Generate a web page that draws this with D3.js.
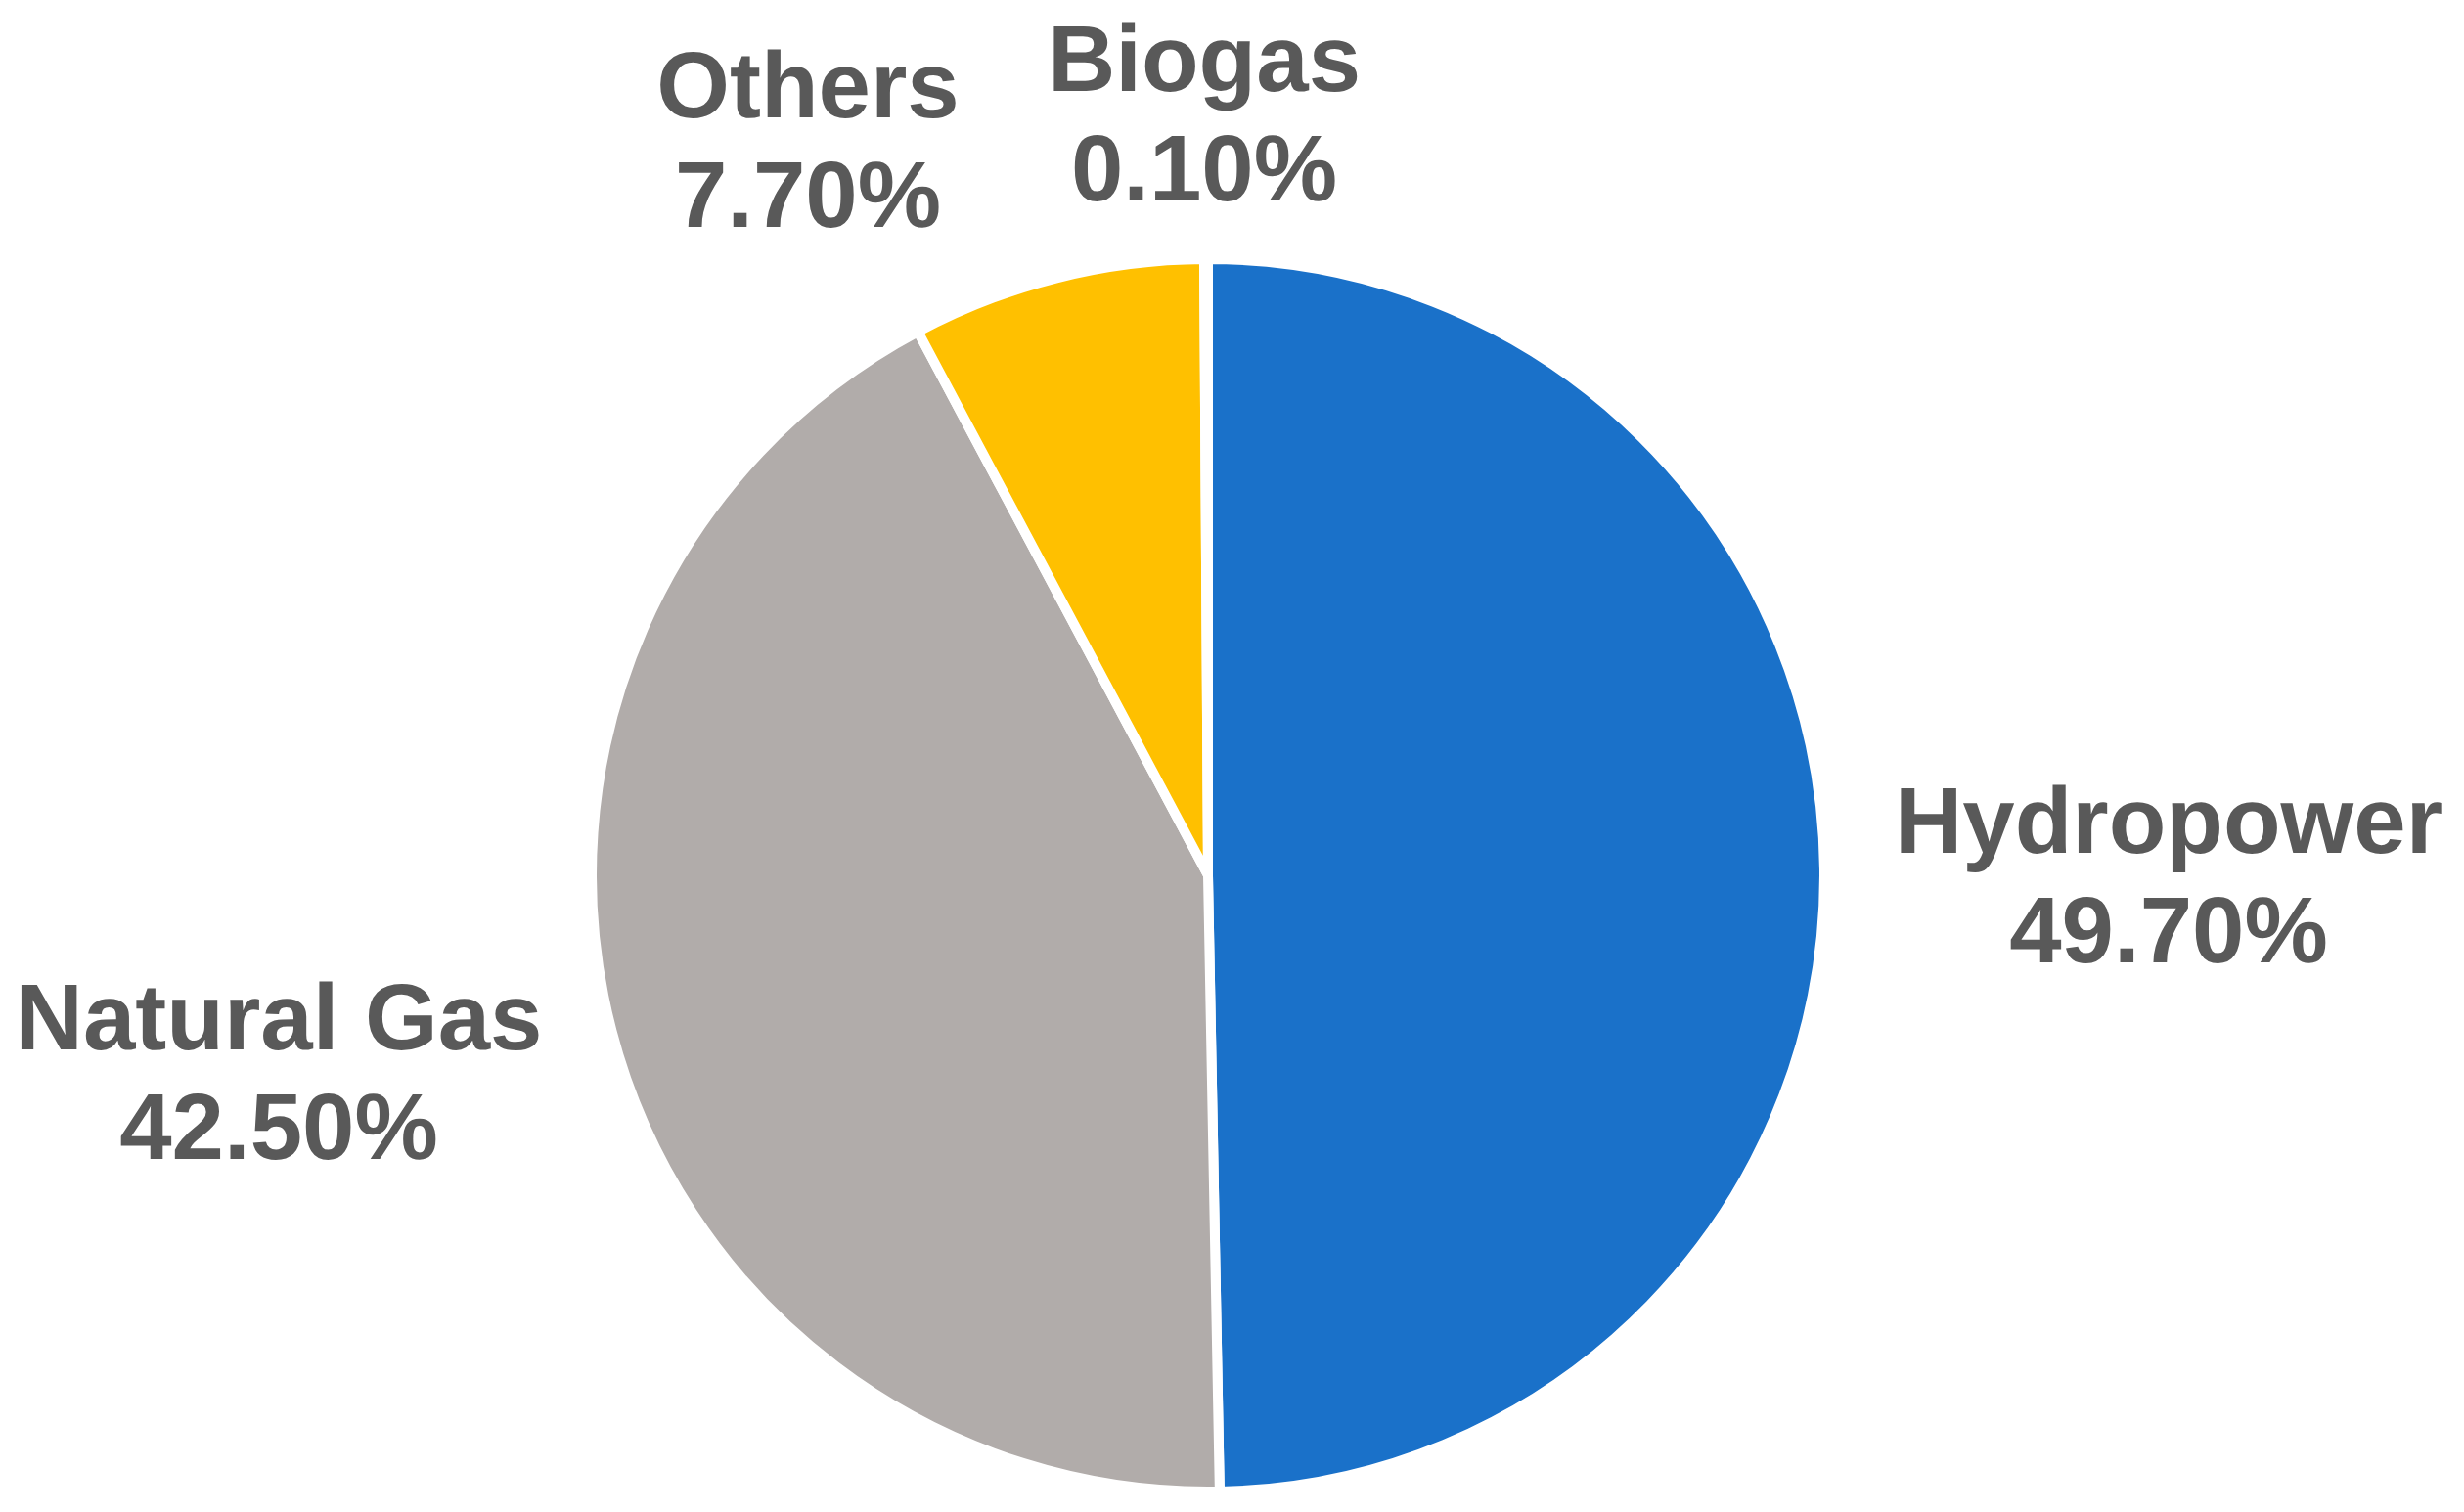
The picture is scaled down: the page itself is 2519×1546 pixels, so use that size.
<!DOCTYPE html>
<html>
<head>
<meta charset="utf-8">
<script src="https://cdn.jsdelivr.net/npm/d3@7"></script>
<style>
  html, body { margin: 0; padding: 0; background: #ffffff; }
  svg { display: block; }
  text { text-rendering: geometricPrecision; }
</style>
</head>
<body>
<svg id="chart" width="2519" height="1546"></svg>
<script>
// ---- data ----
const categories = ["Hydropower", "Natural Gas", "Others", "Biogas"];
const shares = [49.7, 42.5, 7.7, 0.1];
const shareLabels = ["49.70%", "42.50%", "7.70%", "0.10%"];

// ---- styles / layout ----
const colors = ["#1a71c9", "#b1acaa", "#ffc000", "#8fb0e0"];
const W = 2519, H = 1546;
const cx = 1235, cy = 895, R = 630;
// label anchor points (label centre x, first baseline y), placed as in the reference
const labelPos = [
  [2217, 872],
  [285, 1073],
  [826, 120],
  [1231, 93]
];
const lineGap = 112;

const svg = d3.select("#chart");
const data = categories.map((c, i) => ({ name: c, value: shares[i], label: shareLabels[i], i }));

const pie = d3.pie().sort(null).value(d => d.value);
const arc = d3.arc().innerRadius(0).outerRadius(R);

const g = svg.append("g").attr("transform", `translate(${cx},${cy})`);
g.selectAll("path")
  .data(pie(data))
  .join("path")
  .attr("d", arc)
  .attr("fill", d => colors[d.data.i])
  .attr("stroke", "#ffffff")
  .attr("stroke-width", 10)
  .attr("stroke-linejoin", "round");

const labels = svg.selectAll("g.lbl")
  .data(data)
  .join("g")
  .attr("class", "lbl")
  .attr("transform", d => `translate(${labelPos[d.i][0]},${labelPos[d.i][1]})`);

[0, 1].forEach(line => {
  labels.append("text")
    .attr("x", 0)
    .attr("y", line * lineGap)
    .attr("text-anchor", "middle")
    .attr("font-family", "'Liberation Sans', Arial, sans-serif")
    .attr("font-weight", "bold")
    .attr("font-size", 96)
    .attr("fill", "#595959")
    .text(d => line === 0 ? d.name : d.label);
});
</script>
</body>
</html>
